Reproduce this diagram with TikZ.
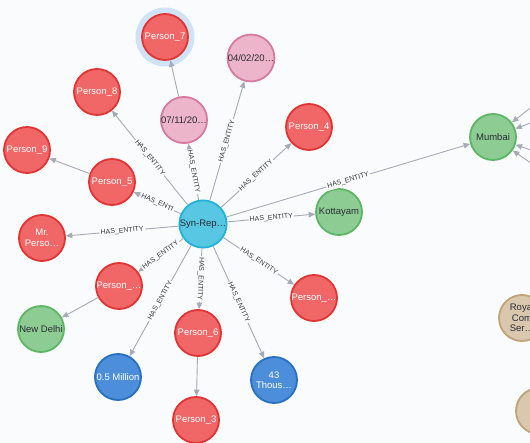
\documentclass[tikz,border=0pt]{standalone}
\usepackage{fontspec}
\setmainfont{Liberation Sans}
\usetikzlibrary{arrows.meta}
\definecolor{bg}{HTML}{F9FBFD}
\definecolor{redf}{HTML}{F16667}
\definecolor{redd}{HTML}{E03535}
\definecolor{cyanf}{HTML}{57C7E3}
\definecolor{cyand}{HTML}{23B3D7}
\definecolor{pinkf}{HTML}{ECB5C9}
\definecolor{pinkd}{HTML}{D77AA0}
\definecolor{greenf}{HTML}{8DCC93}
\definecolor{greend}{HTML}{5DB665}
\definecolor{bluef}{HTML}{4C8EDA}
\definecolor{blued}{HTML}{2870C2}
\definecolor{tanf}{HTML}{D9C8AE}
\definecolor{tand}{HTML}{C0A378}
\definecolor{edgec}{HTML}{A5ABB6}
\definecolor{lbltext}{HTML}{3A3A3A}
\definecolor{darktext}{HTML}{2A2C34}
\definecolor{halo}{HTML}{CFE3F6}
\begin{document}
\begin{tikzpicture}[x=1pt,y=-1pt,
  ent/.style={circle, minimum size=46pt, inner sep=0pt, line width=1.8pt,
    font=\fontsize{9.5}{10.5}\selectfont, align=center},
  person/.style={ent, fill=redf, draw=redd, text=white},
  doc/.style={ent, fill=cyanf, draw=cyand, text=darktext},
  datex/.style={ent, fill=pinkf, draw=pinkd, text=darktext},
  place/.style={ent, fill=greenf, draw=greend, text=darktext},
  money/.style={ent, fill=bluef, draw=blued, text=white},
  org/.style={ent, fill=tanf, draw=tand, text=darktext},
  rel/.style={draw=edgec, line width=0.9pt, -{Triangle[length=6.5pt,width=5.5pt]}},
  lbl/.style={font=\fontsize{7}{7}\selectfont, text=lbltext, fill=bg,
    inner sep=1.2pt, sloped, midway}
]
\fill[bg] (0,0) rectangle (530,443);
\useasboundingbox (0,0) rectangle (530,443);
\clip (0,0) rectangle (530,443);

% halo
\fill[halo] (165,37) circle (29.5pt);

% nodes
\node[doc] (syn) at (203,224) {Syn-Rep…};
\node[person] (p7) at (165,37) {Person\_7};
\node[datex] (d0402) at (251,58) {04/02/20…};
\node[datex] (d0711) at (184,120) {07/11/20…};
\node[person] (p8) at (97,92) {Person\_8};
\node[person] (p4) at (309,127) {Person\_4};
\node[person] (p9) at (27,150) {Person\_9};
\node[person] (p5) at (112,182) {Person\_5};
\node[place] (mum) at (493,137) {Mumbai};
\node[place] (kot) at (339,212) {Kottayam};
\node[person] (mr) at (42,238) {Mr.\\Perso…};
\node[person] (pl) at (119,286) {Person\_…};
\node[person] (pr) at (314,298) {Person\_…};
\node[place] (nd) at (41,329) {New Delhi};
\node[person] (p6) at (198,333) {Person\_6};
\node[money] (half) at (118,377) {0.5 Million};
\node[money] (th) at (274,380) {43\\Thous…};
\node[person] (p3) at (196,420) {Person\_3};
\node[org] (roy) at (522,318) {Royal\\Com\\Ser…};
\node[org] (org2) at (539,411) {};

\coordinate (m1) at (560,85);
\coordinate (m2) at (560,112);
\coordinate (m3) at (560,160);
\coordinate (m4) at (560,183);

% edges from Syn-Rep
\draw[rel] (syn) -- node[lbl]{HAS\_ENTITY} (p8);
\draw[rel] (syn) -- node[lbl]{HAS\_ENTITY} (d0711);
\draw[rel] (syn) -- node[lbl]{HAS\_ENTITY} (d0402);
\draw[rel] (syn) -- node[lbl]{HAS\_ENTITY} (p4);
\draw[rel] (syn) -- node[lbl]{HAS\_ENTI} (p5);
\draw[rel] (syn) -- node[lbl]{HAS\_ENTITY} (mum);
\draw[rel] (syn) -- node[lbl]{HAS\_ENTITY} (kot);
\draw[rel] (syn) -- node[lbl]{HAS\_ENTITY} (mr);
\draw[rel] (syn) -- node[lbl]{HAS\_ENTITY} (pl);
\draw[rel] (syn) -- node[lbl]{HAS\_ENTITY} (pr);
\draw[rel] (syn) -- node[lbl, allow upside down]{HAS\_ENTITY} (p6);
\draw[rel] (syn) -- node[lbl]{HAS\_ENTITY} (half);
\draw[rel] (syn) -- node[lbl]{HAS\_ENTITY} (th);

% other edges
\draw[rel] (d0711) -- (p7);
\draw[rel] (p5) -- (p9);
\draw[rel] (pl) -- (nd);
\draw[rel] (p6) -- (p3);
\draw[rel] (m1) -- (mum);
\draw[rel] (m2) -- (mum);
\draw[rel] (m3) -- (mum);
\draw[rel] (m4) -- (mum);
\end{tikzpicture}
\end{document}
